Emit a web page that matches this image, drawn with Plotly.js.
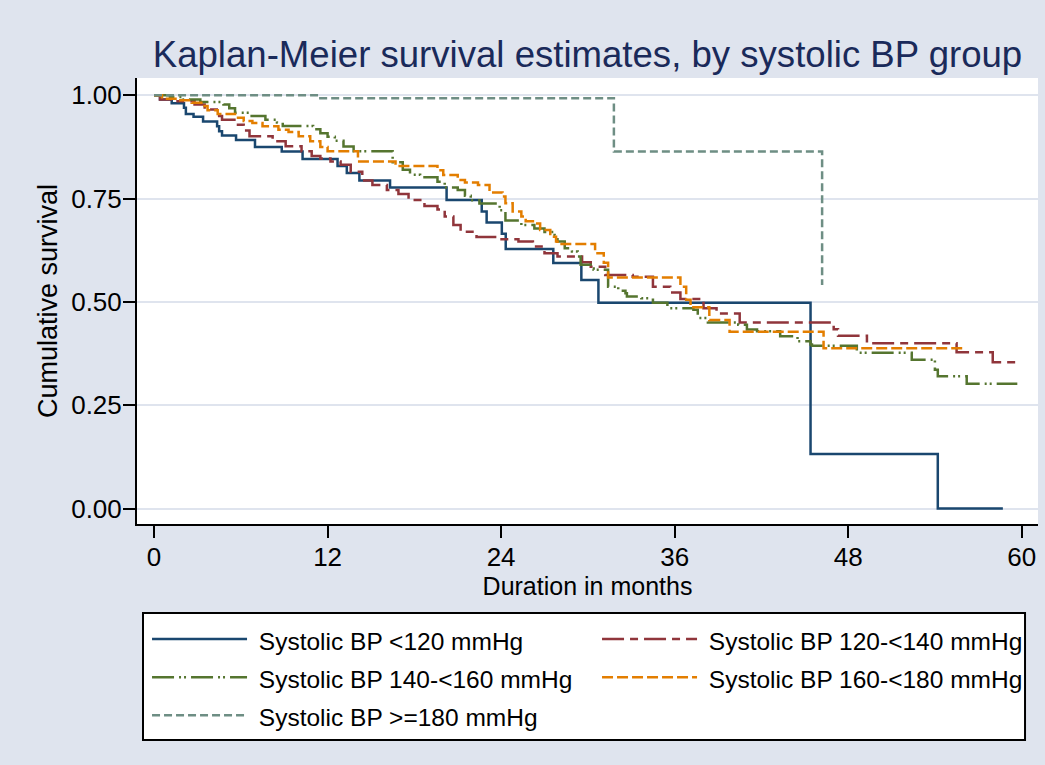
<!DOCTYPE html>
<html>
<head>
<meta charset="utf-8">
<script src="https://cdn.plot.ly/plotly-3.0.1.min.js"></script>
<style>
html,body{margin:0;padding:0;background:#dfe4ee;}
#chart{width:1045px;height:765px;}
</style>
</head>
<body>
<div id="chart"></div>
<script>
// Group labels
var groupNames = [
  "Systolic BP <120 mmHg",
  "Systolic BP 120-<140 mmHg",
  "Systolic BP 140-<160 mmHg",
  "Systolic BP 160-<180 mmHg",
  "Systolic BP >=180 mmHg"
];

// Kaplan-Meier step estimates (time in months, cumulative survival)
var timeLt120 = [0, 0.41, 1.22, 2.07, 2.2, 2.73, 3.39, 4.36, 4.5, 4.7, 5.67, 6.98, 8.83, 10.27, 12.69, 13.33, 14.2, 16.32, 20.23, 22.66, 23.0, 24.05, 24.32, 27.61, 29.55, 30.73, 45.4, 54.2, 58.7];
var survLt120 = [1, 0.990, 0.981, 0.970, 0.955, 0.948, 0.937, 0.925, 0.913, 0.903, 0.892, 0.875, 0.864, 0.846, 0.829, 0.812, 0.794, 0.777, 0.747, 0.719, 0.692, 0.665, 0.628, 0.594, 0.553, 0.498, 0.132, 0.0, 0.0];

var time120 = [0, 0.41, 1.5, 2.8, 3.5, 4.5, 4.7, 5.7, 6.2, 6.6, 8.2, 9.1, 10.2, 10.9, 11.5, 12.2, 12.9, 13.6, 14.4, 15.1, 16.1, 16.9, 17.6, 18.7, 19.6, 20.1, 20.7, 21.2, 22.3, 23.9, 25.2, 26.2, 27.0, 27.9, 29.6, 30.2, 31.2, 33.1, 34.5, 35.7, 36.4, 38.0, 38.9, 40.5, 47.0, 47.3, 49.3, 55.5, 58.0, 59.8];
var surv120 = [1, 0.990, 0.986, 0.978, 0.966, 0.950, 0.941, 0.929, 0.915, 0.901, 0.889, 0.877, 0.865, 0.853, 0.847, 0.840, 0.832, 0.815, 0.794, 0.783, 0.771, 0.761, 0.747, 0.732, 0.724, 0.707, 0.686, 0.670, 0.657, 0.652, 0.646, 0.634, 0.618, 0.610, 0.596, 0.585, 0.565, 0.561, 0.537, 0.523, 0.507, 0.485, 0.472, 0.450, 0.434, 0.418, 0.400, 0.378, 0.354, 0.354];

var time140 = [0, 1.1, 2.0, 3.2, 4.8, 5.2, 5.6, 6.6, 7.7, 8.5, 8.9, 11.0, 11.5, 12.0, 12.5, 13.1, 13.8, 16.5, 17.2, 17.7, 18.4, 19.6, 20.1, 21.0, 21.5, 21.9, 22.5, 23.9, 24.3, 25.4, 26.3, 27.0, 27.7, 27.9, 28.4, 28.9, 29.3, 29.5, 30.2, 30.4, 31.4, 32.1, 32.6, 32.7, 33.7, 34.5, 35.5, 37.3, 37.6, 38.3, 40.4, 41.0, 41.7, 43.3, 44.5, 45.4, 45.5, 48.6, 52.4, 54.0, 54.2, 56.2, 59.7];
var surv140 = [1, 0.996, 0.990, 0.984, 0.978, 0.969, 0.958, 0.950, 0.941, 0.934, 0.926, 0.918, 0.908, 0.900, 0.890, 0.876, 0.865, 0.838, 0.820, 0.808, 0.802, 0.791, 0.777, 0.771, 0.757, 0.746, 0.738, 0.722, 0.697, 0.686, 0.678, 0.669, 0.661, 0.646, 0.630, 0.622, 0.610, 0.590, 0.581, 0.578, 0.537, 0.527, 0.521, 0.513, 0.509, 0.498, 0.485, 0.481, 0.461, 0.450, 0.445, 0.433, 0.429, 0.417, 0.405, 0.397, 0.394, 0.377, 0.360, 0.336, 0.320, 0.302, 0.302];

var time160 = [0, 0.55, 1.66, 2.6, 3.4, 3.7, 4.4, 5.6, 6.2, 6.8, 7.5, 8.6, 9.3, 10.0, 10.8, 11.5, 12.0, 14.1, 16.7, 19.6, 20.0, 21.0, 21.5, 22.4, 23.2, 24.1, 24.3, 24.8, 25.4, 25.7, 26.2, 26.7, 27.4, 27.8, 27.9, 30.5, 31.1, 31.4, 36.4, 36.8, 37.1, 38.4, 39.8, 46.3, 56.1];
var surv160 = [1, 0.992, 0.988, 0.982, 0.974, 0.964, 0.955, 0.946, 0.938, 0.933, 0.925, 0.917, 0.911, 0.901, 0.889, 0.875, 0.865, 0.840, 0.829, 0.819, 0.807, 0.795, 0.789, 0.783, 0.765, 0.755, 0.739, 0.719, 0.707, 0.695, 0.690, 0.674, 0.658, 0.646, 0.640, 0.618, 0.595, 0.559, 0.537, 0.505, 0.487, 0.456, 0.428, 0.388, 0.388];

var time180 = [0, 11.5, 31.8, 46.2];
var surv180 = [1, 0.993, 0.864, 0.541];

var xTicks = [0, 12, 24, 36, 48, 60];
var yTicks = [0, 0.25, 0.5, 0.75, 1];
var yTickText = ["0.00", "0.25", "0.50", "0.75", "1.00"];

var colors = ["#1a476f", "#90353b", "#55752f", "#e37e00", "#6e8e84"];
var dashes = ["solid", "22px,6px,8px,6px", "22px,5px,2px,3px,2px,5px", "11px,4px", "8px,4px"];

var times = [timeLt120, time120, time140, time160, time180];
var survs = [survLt120, surv120, surv140, surv160, surv180];

var traces = times.map(function(t, i){
  return {
    type: "scatter",
    mode: "lines",
    x: t,
    y: survs[i],
    name: '<span style="font-size:24.5px">\u00a0' + groupNames[i] + '</span>',
    line: {shape: "hv", color: colors[i], width: 2.5, dash: dashes[i]},
    hoverinfo: "x+y"
  };
});

var bg = "#dfe4ee";
var layout = {
  width: 1045, height: 765,
  paper_bgcolor: bg,
  plot_bgcolor: "#ffffff",
  font: {family: "Liberation Sans, Arial, sans-serif", size: 26, color: "#000000"},
  margin: {l: 137, r: 7, t: 78, b: 241, pad: 0},
  title: {
    text: "Kaplan-Meier survival estimates, by systolic BP group",
    font: {size: 36.6, color: "#1a2a5a"},
    xref: "paper", x: 0.5, xanchor: "center",
    yref: "container", y: 0.929, yanchor: "middle"
  },
  xaxis: {
    range: [-1.18, 61.13],
    tickvals: xTicks,
    ticks: "outside", ticklen: 12, tickwidth: 2, tickcolor: "#000",
    ticklabelstandoff: -3,
    showline: true, linecolor: "#000", linewidth: 2,
    showgrid: false, zeroline: false,
    tickfont: {size: 26},
    title: {text: "Duration in months", font: {size: 25}, standoff: 0},
    automargin: false
  },
  yaxis: {
    range: [-0.0375, 1.042],
    tickvals: yTicks, ticktext: yTickText,
    ticks: "outside", ticklen: 12, tickwidth: 2, tickcolor: "#000",
    ticklabelstandoff: -4,
    showline: true, linecolor: "#000", linewidth: 2,
    showgrid: true, gridcolor: bg, gridwidth: 2,
    zeroline: false,
    tickfont: {size: 26},
    title: {text: "Cumulative survival", font: {size: 27}, standoff: 6},
    automargin: false
  },
  shapes: [{
    type: "rect", xref: "paper", yref: "paper", layer: "above",
    x0: 0.00666, x1: 0.9856, y0: -0.1996, y1: -0.4843,
    fillcolor: "#ffffff", line: {color: "#000000", width: 2}
  }],
  showlegend: true,
  legend: {
    orientation: "h",
    xref: "container", yref: "container",
    x: 0.1407, xanchor: "left",
    y: 0.196, yanchor: "top",
    bgcolor: "rgba(0,0,0,0)",
    borderwidth: 0,
    font: {size: 27},
    itemwidth: 95,
    entrywidth: 340,
    traceorder: "normal",
    itemclick: false
  }
};

Plotly.newPlot("chart", traces, layout, {displayModeBar: false, staticPlot: true});
</script>
</body>
</html>
